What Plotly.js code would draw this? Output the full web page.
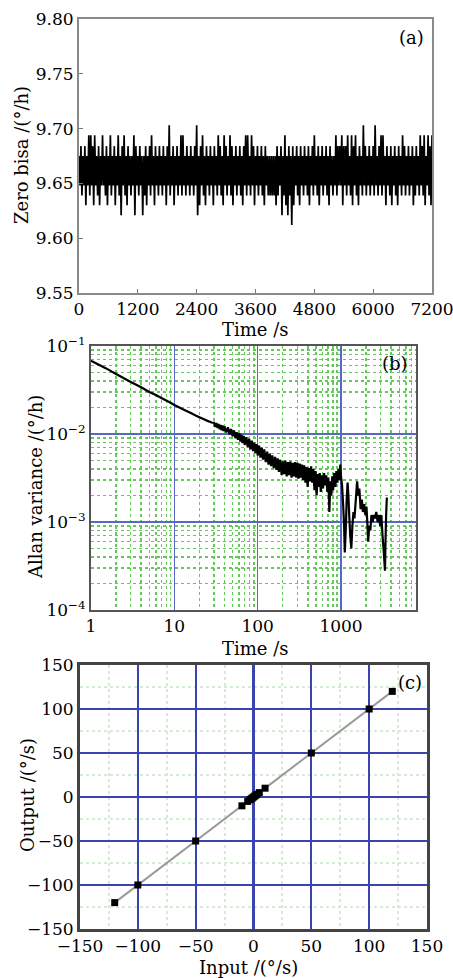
<!DOCTYPE html>
<html>
<head>
<meta charset="utf-8">
<script src="https://cdn.plot.ly/plotly-3.0.1.min.js"></script>
<style>
html,body{margin:0;padding:0;background:#fff;}
#chart{width:453px;height:978px;}
</style>
</head>
<body>
<div id="chart"></div>
<script>
// ---------- Panel (a): zero bias time series ----------
const biasSampleStep = 20; // s between plotted samples
const zeroBias = [
9.675,9.648,9.684,9.639,9.675,9.648,9.684,9.630,9.675,9.648,9.694,9.639,9.694,9.648,9.684,9.630,9.694,9.648,9.675,9.639,
9.684,9.630,9.675,9.648,9.694,9.648,9.675,9.639,9.684,9.630,9.675,9.648,9.694,9.639,9.675,9.648,9.684,9.630,9.675,9.648,
9.694,9.639,9.675,9.621,9.684,9.648,9.694,9.639,9.675,9.630,9.684,9.648,9.675,9.639,9.675,9.648,9.694,9.621,9.684,9.648,
9.675,9.639,9.684,9.648,9.675,9.621,9.675,9.639,9.684,9.630,9.675,9.648,9.684,9.639,9.694,9.648,9.675,9.630,9.684,9.648,
9.675,9.639,9.684,9.648,9.675,9.639,9.684,9.648,9.675,9.630,9.684,9.648,9.703,9.639,9.675,9.648,9.684,9.630,9.675,9.648,
9.684,9.639,9.675,9.648,9.694,9.639,9.694,9.648,9.675,9.639,9.684,9.648,9.675,9.639,9.684,9.648,9.675,9.639,9.684,9.648,
9.703,9.621,9.675,9.630,9.684,9.648,9.694,9.639,9.675,9.630,9.684,9.648,9.675,9.639,9.684,9.648,9.675,9.630,9.684,9.648,
9.675,9.639,9.694,9.648,9.684,9.639,9.675,9.630,9.694,9.648,9.684,9.639,9.675,9.648,9.694,9.639,9.684,9.630,9.675,9.648,
9.684,9.639,9.675,9.648,9.684,9.639,9.675,9.630,9.684,9.648,9.694,9.639,9.694,9.648,9.675,9.639,9.694,9.648,9.684,9.630,
9.675,9.648,9.684,9.639,9.675,9.648,9.684,9.639,9.675,9.630,9.684,9.648,9.675,9.639,9.675,9.639,9.675,9.639,9.675,9.639,
9.675,9.630,9.684,9.639,9.675,9.648,9.684,9.621,9.675,9.639,9.694,9.630,9.675,9.621,9.684,9.639,9.675,9.612,9.684,9.630,
9.675,9.648,9.684,9.639,9.675,9.630,9.684,9.648,9.675,9.639,9.684,9.648,9.675,9.639,9.684,9.630,9.675,9.648,9.684,9.639,
9.694,9.648,9.675,9.639,9.684,9.630,9.675,9.648,9.684,9.639,9.675,9.648,9.684,9.639,9.675,9.630,9.684,9.648,9.675,9.639,
9.675,9.648,9.694,9.639,9.684,9.648,9.684,9.648,9.694,9.630,9.684,9.648,9.684,9.639,9.694,9.648,9.675,9.639,9.694,9.630,
9.684,9.648,9.694,9.639,9.675,9.630,9.684,9.648,9.675,9.639,9.703,9.648,9.684,9.639,9.675,9.648,9.684,9.639,9.675,9.648,
9.684,9.639,9.703,9.648,9.675,9.639,9.684,9.648,9.694,9.639,9.694,9.648,9.675,9.630,9.684,9.648,9.675,9.639,9.684,9.630,
9.675,9.648,9.684,9.639,9.675,9.630,9.684,9.648,9.675,9.639,9.694,9.648,9.684,9.639,9.675,9.648,9.684,9.639,9.675,9.648,
9.684,9.630,9.675,9.639,9.684,9.648,9.675,9.639,9.694,9.648,9.684,9.639,9.694,9.630,9.675,9.648,9.694,9.639,9.684,9.630,
9.694
];
const biasTime = zeroBias.map((v, i) => i * biasSampleStep);
const aXTicks = [0, 1200, 2400, 3600, 4800, 6000, 7200];
const aYTicks = [9.55, 9.60, 9.65, 9.70, 9.75, 9.80];
const aYTickText = ["9.55", "9.60", "9.65", "9.70", "9.75", "9.80"];

// ---------- Panel (b): Allan variance ----------
const allanTau = [1,1.5,2,3,4,5,6,7,8,9,10,12,14,16,18,20,22,25,28,
30,31,32,33,34,35,36,37,38,39,40,42,44,46,48,50,52,54,56,58,60,62,64,66,68,70,73,76,79,82,85,88,91,94,97,
100,104,108,112,116,120,125,130,135,140,145,150,156,162,168,174,180,187,194,201,208,215,223,231,239,247,255,264,273,282,291,
300,310,320,330,340,350,362,374,386,398,410,424,438,452,466,480,495,510,525,540,556,572,590,608,626,645,665,685,705,725,745,765,785,805,830,855,880,905,930,955,980,
1000,1030,1060,1090,1110,1140,1170,1200,1230,1260,1290,1330,1370,1410,1450,1500,1560,1610,1660,1720,1780,1830,1900,1960,2020,2080,2120,2180,2250,2320,2400,2480,2560,2650,2750,2850,2950,3050,3150,3250,3320,3370,3420,3480,3550];
const allanVar = [0.068,0.056,0.048,0.039,0.034,0.030,0.0277,0.0256,0.024,0.0226,0.0214,0.0196,0.0183,0.0172,0.0162,0.0155,0.0149,0.0141,0.0135,
0.0134,0.0120,0.0133,0.0117,0.0130,0.0113,0.0127,0.0110,0.0125,0.0108,0.0122,0.0104,0.0119,0.0099,0.0114,0.0094,0.0110,0.0090,0.0105,0.0086,0.0102,0.0082,0.0098,0.0079,0.0095,0.0075,0.0092,0.0071,0.0088,0.0067,0.0084,0.0064,0.0080,0.0061,0.0077,
0.0057,0.0074,0.0054,0.0070,0.0051,0.0067,0.0048,0.0063,0.0045,0.0060,0.0043,0.0057,0.0041,0.0055,0.0039,0.0053,0.0037,0.0051,0.0034,0.0049,0.0035,0.0050,0.0033,0.0048,0.0034,0.0049,0.0032,0.0047,0.0033,0.0048,0.0032,
0.0047,0.0031,0.0046,0.0032,0.0045,0.0030,0.0044,0.0028,0.0042,0.0025,0.0041,0.0029,0.0043,0.0028,0.0040,0.0023,0.0038,0.0020,0.0035,0.0025,0.0036,0.0022,0.0034,0.0024,0.0036,0.0026,0.0034,0.0022,0.0032,0.0013,0.0029,0.0020,0.0033,0.0023,0.0036,0.0025,0.0038,0.0028,0.0040,0.0030,0.0045,
0.0033,0.0026,0.0016,0.0009,0.00045,0.0008,0.0018,0.0028,0.0019,0.0011,0.0007,0.0005,0.0009,0.0013,0.0011,0.0017,0.0029,0.0020,0.0024,0.0014,0.0018,0.0013,0.0016,0.0012,0.0015,0.0009,0.0006,0.0009,0.0008,0.0012,0.0010,0.0012,0.0011,0.0013,0.0010,0.0012,0.0009,0.0012,0.0007,0.00048,0.00035,0.00028,0.0006,0.0012,0.0019];
const bXTicks = [1, 10, 100, 1000];
const bXTickText = ["1", "10", "100", "1000"];
const bYTicks = [1e-4, 1e-3, 1e-2, 1e-1];
const bYTickText = ["10<sup>−4</sup>", "10<sup>−3</sup>", "10<sup>−2</sup>", "10<sup>−1</sup>"];

// ---------- Panel (c): scale factor ----------
const inputRate  = [-120,-100,-50,-10,-5,-3,-2,-1,0,1,2,3,5,10,50,100,120];
const outputRate = [-120,-100,-50,-10,-5,-3,-2,-1,0,1,2,3,5,10,50,100,120];
const cTicks = [-150, -100, -50, 0, 50, 100, 150];

const W = 453, H = 978;
const FONT = "DejaVu Serif, Liberation Serif, serif";
const fs = 17;
function dx(a, b) { return [a / W, b / W]; }
function dy(top, bottom) { return [1 - bottom / H, 1 - top / H]; }

const traces = [
  { x: biasTime, y: zeroBias, type: "scatter", mode: "lines", xaxis: "x", yaxis: "y",
    line: { color: "#000", width: 1.7, simplify: false }, hoverinfo: "skip" },
  { x: allanTau, y: allanVar, type: "scatter", mode: "lines", xaxis: "x2", yaxis: "y2",
    line: { color: "#000", width: 2.2, simplify: false }, hoverinfo: "skip" },
  { x: inputRate, y: outputRate, type: "scatter", mode: "lines+markers", xaxis: "x3", yaxis: "y3",
    line: { color: "#9a9a9a", width: 2 },
    marker: { symbol: "square", size: 7, color: "#000" }, hoverinfo: "skip" }
];

const tickFont = { family: FONT, size: fs, color: "#000" };

const layout = {
  width: W, height: H,
  margin: { l: 0, r: 0, t: 0, b: 0 },
  paper_bgcolor: "#fff", plot_bgcolor: "#fff",
  showlegend: false,
  font: { family: FONT, size: fs, color: "#000" },
  xaxis: {
    domain: dx(79, 432), anchor: "y", range: [0, 7200],
    tickvals: aXTicks, ticktext: aXTicks.map(String), tickfont: tickFont, ticklabeloverflow: "allow",
    ticks: "inside", ticklen: 4, tickcolor: "#777", showgrid: false, zeroline: false,
    showline: true, mirror: true, linecolor: "#8a8a8a", linewidth: 2
  },
  yaxis: {
    domain: dy(19, 293), anchor: "x", range: [9.55, 9.80],
    tickvals: aYTicks, ticktext: aYTickText, tickfont: tickFont, ticklabeloverflow: "allow",
    ticks: "inside", ticklen: 4, tickcolor: "#777", showgrid: false, zeroline: false,
    showline: true, mirror: true, linecolor: "#8a8a8a", linewidth: 2
  },
  xaxis2: {
    domain: dx(91, 416), anchor: "y2", type: "log", range: [0, 3.9],
    tickvals: bXTicks, ticktext: bXTickText, tickfont: tickFont, ticks: "", ticklabeloverflow: "allow",
    showgrid: true, gridcolor: "#5468c4", gridwidth: 1.6, zeroline: false,
    minor: { dtick: "D1", showgrid: true, gridcolor: "#66c85a", griddash: "dot", gridwidth: 1.4, ticks: "" },
    showline: true, mirror: true, linecolor: "#555", linewidth: 2
  },
  yaxis2: {
    domain: dy(346, 610), anchor: "x2", type: "log", range: [-4, -1],
    tickvals: bYTicks, ticktext: bYTickText, tickfont: tickFont, ticks: "", ticklabeloverflow: "allow",
    showgrid: true, gridcolor: "#5468c4", gridwidth: 1.6, zeroline: false,
    minor: { dtick: "D1", showgrid: true, gridcolor: "#66c85a", griddash: "dot", gridwidth: 1.4, ticks: "" },
    showline: true, mirror: true, linecolor: "#555", linewidth: 2
  },
  xaxis3: {
    domain: dx(80, 427), anchor: "y3", range: [-150, 150],
    tickvals: cTicks, tickfont: tickFont, ticks: "", ticklabeloverflow: "allow",
    showgrid: true, gridcolor: "#3a44b0", gridwidth: 2.2, zeroline: false,
    minor: { dtick: 25, showgrid: true, gridcolor: "#d6ebd3", griddash: "dot", gridwidth: 2, ticks: "" },
    showline: true, mirror: true, linecolor: "#444", linewidth: 3
  },
  yaxis3: {
    domain: dy(665, 929), anchor: "x3", range: [-150, 150],
    tickvals: cTicks, tickfont: tickFont, ticks: "", ticklabeloverflow: "allow",
    showgrid: true, gridcolor: "#3a44b0", gridwidth: 2.2, zeroline: false,
    minor: { dtick: 25, showgrid: true, gridcolor: "#d6ebd3", griddash: "dot", gridwidth: 2, ticks: "" },
    showline: true, mirror: true, linecolor: "#444", linewidth: 3
  },
  annotations: [
    { text: "Time /s", xref: "paper", yref: "paper", x: 255 / W, y: 1 - 329 / H, showarrow: false, xanchor: "center", yanchor: "middle", font: { family: FONT, size: 18 } },
    { text: "Zero bisa /(°/h)", xref: "paper", yref: "paper", x: 21 / W, y: 1 - 155 / H, textangle: -90, showarrow: false, xanchor: "center", yanchor: "middle", font: { family: FONT, size: 18 } },
    { text: "(a)", xref: "paper", yref: "paper", x: 411 / W, y: 1 - 38 / H, showarrow: false, xanchor: "center", yanchor: "middle", font: { family: FONT, size: 18 } },
    { text: "Time /s", xref: "paper", yref: "paper", x: 255 / W, y: 1 - 648 / H, showarrow: false, xanchor: "center", yanchor: "middle", font: { family: FONT, size: 18 } },
    { text: "Allan variance /(°/h)", xref: "paper", yref: "paper", x: 36 / W, y: 1 - 487 / H, textangle: -90, showarrow: false, xanchor: "center", yanchor: "middle", font: { family: FONT, size: 18 } },
    { text: "(b)", xref: "paper", yref: "paper", x: 395 / W, y: 1 - 363 / H, showarrow: false, xanchor: "center", yanchor: "middle", font: { family: FONT, size: 18 } },
    { text: "Input /(°/s)", xref: "paper", yref: "paper", x: 248 / W, y: 1 - 967 / H, showarrow: false, xanchor: "center", yanchor: "middle", font: { family: FONT, size: 18 } },
    { text: "Output /(°/s)", xref: "paper", yref: "paper", x: 27 / W, y: 1 - 795 / H, textangle: -90, showarrow: false, xanchor: "center", yanchor: "middle", font: { family: FONT, size: 18 } },
    { text: "(c)", xref: "paper", yref: "paper", x: 410 / W, y: 1 - 682 / H, showarrow: false, xanchor: "center", yanchor: "middle", font: { family: FONT, size: 18 } }
  ]
};

Plotly.newPlot("chart", traces, layout, { staticPlot: true, displayModeBar: false });
</script>
</body>
</html>
